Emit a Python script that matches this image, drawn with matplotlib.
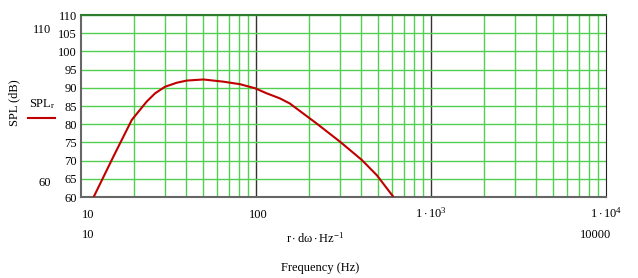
import numpy as np
import matplotlib.pyplot as plt
from matplotlib.ticker import NullFormatter, LogLocator, FixedLocator

plt.rcParams['font.family'] = ['Liberation Serif', 'DejaVu Serif']
plt.rcParams['mathtext.fontset'] = 'custom'
plt.rcParams['mathtext.rm'] = 'Liberation Serif'
plt.rcParams['mathtext.it'] = 'Liberation Serif:italic'

# SPL_r curve
freq = [11.8, 15.3, 19.5, 23.7, 26.5, 30.2, 35.2, 40.2, 50, 65, 81, 98.6, 115, 137, 156, 222, 302, 402, 490, 604]
spl = [60.0, 71.1, 81.2, 86.2, 88.5, 90.3, 91.4, 92.0, 92.3, 91.7, 91.0, 89.9, 88.5, 87.1, 85.7, 80.2, 75.2, 70.2, 66.0, 60.3]

y_ticks = [60, 65, 70, 75, 80, 85, 90, 95, 100, 105, 110]

green = '#4fd14f'
fig = plt.figure(figsize=(6.38, 2.78), dpi=100)
ax = fig.add_axes([0.127, 0.291, 0.823, 0.655])

ax.plot(freq, spl, color='#c00000', linewidth=1.5, zorder=3)
ax.set_xscale('log')
ax.set_xlim(10, 1e4)
ax.set_ylim(60, 110)

# grid: green minor/horizontal lines, dark lines at decades
ax.set_yticks(y_ticks)
ax.xaxis.set_major_locator(FixedLocator([100, 1000]))
ax.xaxis.set_minor_locator(LogLocator(base=10, subs=np.arange(2, 10)))
ax.xaxis.set_major_formatter(NullFormatter())
ax.xaxis.set_minor_formatter(NullFormatter())
ax.grid(True, which='minor', axis='x', color=green, linewidth=1)
ax.grid(True, which='major', axis='y', color=green, linewidth=1)
ax.grid(True, which='major', axis='x', color='#333333', linewidth=1)
ax.tick_params(axis='both', which='both', length=0)
ax.tick_params(axis='y', labelsize=9, pad=3)
ax.set_yticklabels([str(v) for v in y_ticks])

for side in ['left', 'bottom']:
    ax.spines[side].set_color('#666666')
    ax.spines[side].set_linewidth(1.5)
ax.spines['top'].set_color('#2e7d2e')
ax.spines['top'].set_linewidth(1.5)
ax.spines['right'].set_color('#222222')

# x tick labels (first row)
xt = dict(transform=fig.transFigure, fontsize=9, ha='center', va='center')
fig.text(88 / 638, 1 - 215 / 278, '10', **xt)
fig.text(258 / 638, 1 - 215 / 278, '100', **xt)
fig.text(431 / 638, 1 - 213 / 278, r'$\mathrm{1\cdot10^{3}}$', **xt)
fig.text(606 / 638, 1 - 213 / 278, r'$\mathrm{1\cdot10^{4}}$', **xt)
# second row
fig.text(88 / 638, 1 - 235 / 278, '10', **xt)
fig.text(596 / 638, 1 - 235 / 278, '10000', **xt)
fig.text(315 / 638, 1 - 238 / 278, r'$\mathrm{r\cdot d\omega\cdot Hz^{-1}}$', **xt)
fig.text(320 / 638, 1 - 268 / 278, 'Frequency (Hz)', **xt)

# y-side labels
fig.text(42 / 638, 1 - 30 / 278, '110', **xt)
fig.text(45 / 638, 1 - 183 / 278, '60', **xt)
fig.text(14 / 638, 1 - 103 / 278, 'SPL (dB)', rotation=90, **xt)
fig.text(42 / 638, 1 - 104 / 278, r'$\mathrm{SPL_r}$', **xt)
fig.add_artist(plt.Line2D([28 / 638, 55 / 638], [1 - 118 / 278, 1 - 118 / 278],
                          color='#c00000', linewidth=1.5, transform=fig.transFigure))

fig.savefig('out.png', dpi=100)
